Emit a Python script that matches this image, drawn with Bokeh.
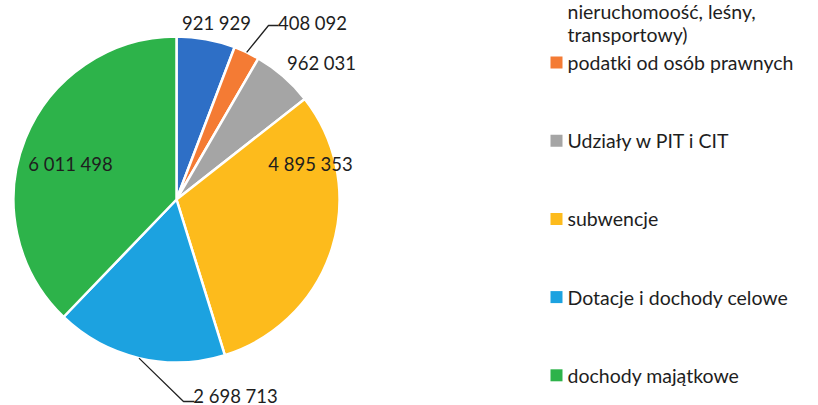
import math
from bokeh.plotting import figure
from bokeh.models import Range1d, ColumnDataSource
from bokeh.core.properties import value
from bokeh.embed import file_html
from bokeh.resources import INLINE

# ---- data ----
categories = [
    "nieruchomoość, leśny,\ntransportowy)",
    "podatki od osób prawnych",
    "Udziały w PIT i CIT",
    "subwencje",
    "Dotacje i dochody celowe",
    "dochody majątkowe",
]
values = [921929, 408092, 962031, 4895353, 2698713, 6011498]
value_labels = ["921 929", "408 092", "962 031", "4 895 353", "2 698 713", "6 011 498"]

# ---- style ----
colors = ["#2E6FC6", "#F47B34", "#A5A5A5", "#FDBB1C", "#1CA2E0", "#2DB34A"]
W, H = 818, 405
CX, CY = 176, H - 199          # pie centre (data units = px)
R = 163
FONT = "Lato"
TXT = "#1e1e1e"

# label offsets from the pie centre (px, y up) - layout only
label_dx = [40, 136, 145, 134, 59, -106]
label_dy = [177, 177, 137, 36, -196, 36]
leader = [False, True, False, False, True, False]

p = figure(width=W, height=H, x_range=Range1d(0, W), y_range=Range1d(0, H),
           output_backend="svg", toolbar_location=None, min_border=0)
p.axis.visible = False
p.grid.visible = False
p.outline_line_color = None
p.background_fill_color = "white"

total = float(sum(values))
starts, ends, mids = [], [], []
cum = 0.0
for v in values:
    a0 = cum / total * 2 * math.pi
    cum += v
    a1 = cum / total * 2 * math.pi
    # clockwise from 12 o'clock -> math angles
    starts.append(math.pi / 2 - a1)
    ends.append(math.pi / 2 - a0)
    mids.append(math.pi / 2 - (a0 + a1) / 2)

src = ColumnDataSource(dict(start=starts, end=ends, color=colors))
p.wedge(x=CX, y=CY, radius=R, start_angle="start", end_angle="end",
        fill_color="color", line_color="white", line_width=2.5, source=src)

# data labels
lx = [CX + dx for dx in label_dx]
ly = [CY + dy for dy in label_dy]
p.text(x=lx, y=ly, text=value_labels, text_align="center", text_baseline="middle",
       text_font=value(FONT), text_font_size="18.5px", text_color=TXT)

# leader lines
for i, has in enumerate(leader):
    if not has:
        continue
    sx = CX + R * math.cos(mids[i])
    sy = CY + R * math.sin(mids[i])
    if ly[i] > CY:
        ex, ey = lx[i] - 44, ly[i] - 3
        fx = ex + 10
    else:
        ex, ey = lx[i] - 52, ly[i] - 6
        fx = ex + 11
    p.line([sx, ex, fx], [sy, ey, ey], line_color="#222222", line_width=1.3)

# legend (drawn manually)
LEG_X = 556
LEG_FS = "19.5px"
leg_y_top = H - 62
leg_step = 78.2
leg_y = [leg_y_top + leg_step * (1 - i) for i in range(len(categories))]
p.scatter(x=[LEG_X] * len(categories), y=leg_y, marker="square", size=12,
          fill_color=colors, line_color=None)
p.text(x=[567] * (len(categories) - 1), y=leg_y[1:], text=categories[1:],
       text_align="left", text_baseline="middle",
       text_font=value(FONT), text_font_size=LEG_FS, text_color=TXT)
# first entry wraps; only its last two lines are inside the picture
first_lines = categories[0].split("\n")
line_gap = 23
first_y = [leg_y[1] + 28 + line_gap * (len(first_lines) - 1 - k) for k in range(len(first_lines))]
p.text(x=[567] * len(first_lines), y=first_y, text=first_lines,
       text_align="left", text_baseline="middle",
       text_font=value(FONT), text_font_size=LEG_FS, text_color=TXT)

open("out.html", "w").write(file_html(p, INLINE))
